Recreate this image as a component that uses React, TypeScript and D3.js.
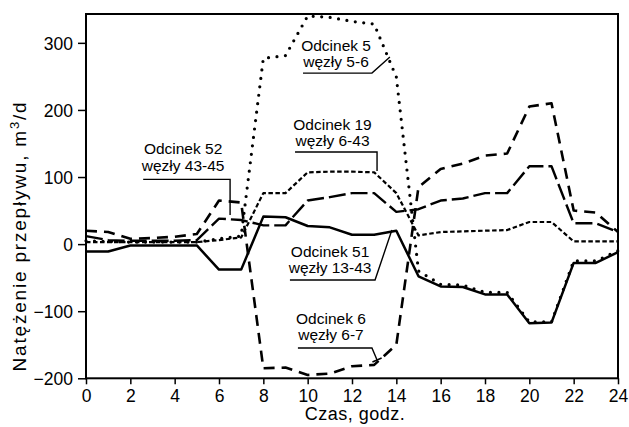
import React, { useRef, useEffect } from "react";
import * as d3 from "d3";

// godziny doby
const hours = [0, 1, 2, 3, 4, 5, 6, 7, 8, 9, 10, 11, 12, 13, 14, 15, 16, 17, 18, 19, 20, 21, 22, 23, 24];

// natezenie przeplywu, m3/d
const odcinek5 = [5, 4, 3, 3, 3, 3, 8, 12, 277, 281, 340, 338, 332, 328, 249, -40, -60, -61, -72, -72, -116, -116, -25, -25, -10];
const odcinek6 = [20, 18, 8, 9, 11, 15, 65, 62, -185, -184, -195, -193, -182, -180, -150, 85, 112, 120, 132, 135, 205, 210, 50, 47, 18];
const odcinek19 = [3, 3, 3, 3, 3, 3, 6, 10, 76, 76, 107, 108, 108, 107, 76, 13, 18, 19, 20, 21, 33, 33, 4, 4, 4];
const odcinek51 = [-11, -11, -2, -2, -2, -2, -38, -38, 41, 40, 27, 25, 14, 14, 20, -48, -63, -64, -75, -75, -118, -117, -28, -28, -12];
const odcinek52 = [12, 6, 5, 5, 5, 6, 38, 36, 28, 28, 65, 70, 76, 76, 48, 52, 65, 68, 76, 76, 116, 116, 31, 31, 18];

const xTicks = [0, 2, 4, 6, 8, 10, 12, 14, 16, 18, 20, 22, 24];
const yTicks = [-200, -100, 0, 100, 200, 300];

const App = () => {
	const svgRef = useRef<SVGSVGElement>(null);

	useEffect(() => {
		const svg = d3.select(svgRef.current);
		svg.selectAll("*").remove();
		const font = "'Liberation Sans', Arial, Helvetica, sans-serif";

		const x = d3.scaleLinear().domain([0, 24]).range([86, 618]);
		const y = d3.scaleLinear().domain([-200, 343]).range([378.3, 14]);

		svg.append("rect").attr("width", 629).attr("height", 427).attr("fill", "white");

		// serie
		const series = [
			{ values: odcinek6, dash: "11 7", width: 2.6, cap: "butt" },
			{ values: odcinek52, dash: "17 5", width: 2.4, cap: "butt" },
			{ values: odcinek19, dash: "4.5 2.5", width: 2.2, cap: "butt" },
			{ values: odcinek51, dash: null, width: 2.5, cap: "butt" },
			{ values: odcinek5, dash: "0 8.5", width: 3.2, cap: "round" },
		];
		const line = d3.line<number>()
			.x((d, i) => x(hours[i]))
			.y(d => y(d));

		svg.append("g")
			.selectAll("path")
			.data(series)
			.enter()
			.append("path")
			.attr("d", d => line(d.values))
			.attr("fill", "none")
			.attr("stroke", "black")
			.attr("stroke-width", d => d.width)
			.attr("stroke-linecap", d => d.cap)
			.attr("stroke-linejoin", "round")
			.attr("stroke-dasharray", d => d.dash);

		// ramka
		svg.append("rect")
			.attr("x", x(0)).attr("y", y(343))
			.attr("width", x(24) - x(0)).attr("height", y(-200) - y(343))
			.attr("fill", "none").attr("stroke", "black").attr("stroke-width", 2);

		const xAxis = d3.axisBottom(x).tickValues(xTicks).tickSize(6).tickPadding(5).tickFormat(d3.format("d"));
		const yAxis = d3.axisLeft(y).tickValues(yTicks).tickSize(8).tickPadding(5).tickFormat(d3.format("d"));

		const gx = svg.append("g").attr("transform", `translate(0, ${y(-200)})`).call(xAxis);
		const gy = svg.append("g").attr("transform", `translate(${x(0)}, 0)`).call(yAxis);
		[gx, gy].forEach(g => {
			g.select(".domain").remove();
			g.selectAll("line").attr("stroke-width", 1.5);
			g.selectAll("text").attr("font-family", font).attr("font-size", 17.5).attr("fill", "black");
		});
		gy.selectAll("text").attr("dy", "0.36em");

		// opisy
		const callouts = [
			{ lines: ["Odcinek 5", "węzły 5-6"], at: [11.28, 288.4], leader: [[9.79, 254.9], [12.9, 254.9], [13.71, 278.8]] },
			{ lines: ["Odcinek 19", "węzły 6-43"], at: [11.12, 170.7], leader: [[9.43, 137.2], [13.13, 137.2], [13.13, 108.9]] },
			{ lines: ["Odcinek 52", "węzły 43-45"], at: [4.38, 134.2], leader: [[2.58, 96.5], [6.5, 96.5], [6.5, 43.3]] },
			{ lines: ["Odcinek 51", "węzły 13-43"], at: [11.01, -18.8], leader: [[9.2, -53.5], [13.04, -53.5], [13.8, 21]] },
			{ lines: ["Odcinek 6", "węzły 6-7"], at: [11.05, -119], leader: [[9.56, -154.8], [12.9, -154.8], [13.13, -172.7]] },
		];
		const leaderLine = d3.line<number[]>().x(d => x(d[0])).y(d => y(d[1]));

		callouts.forEach(c => {
			const t = svg.append("text")
				.attr("x", x(c.at[0]))
				.attr("y", y(c.at[1]))
				.attr("text-anchor", "middle")
				.attr("font-family", font)
				.attr("font-size", 15.5)
				.attr("fill", "black");
			c.lines.forEach((s, i) => {
				t.append("tspan").attr("x", x(c.at[0])).attr("dy", i === 0 ? 0 : 16.5).text(s);
			});
			svg.append("path")
				.attr("d", leaderLine(c.leader))
				.attr("fill", "none")
				.attr("stroke", "black")
				.attr("stroke-width", 1.4);
		});

		// poprzeczka na koncu odnosnika odcinka 6
		const end = callouts[4].leader;
		const p1 = [x(end[1][0]), y(end[1][1])];
		const p2 = [x(end[2][0]), y(end[2][1])];
		const len = Math.hypot(p2[0] - p1[0], p2[1] - p1[1]);
		const nx = -(p2[1] - p1[1]) / len * 5;
		const ny = (p2[0] - p1[0]) / len * 5;
		svg.append("line")
			.attr("x1", p2[0] - nx).attr("y1", p2[1] - ny)
			.attr("x2", p2[0] + nx).attr("y2", p2[1] + ny)
			.attr("stroke", "black").attr("stroke-width", 1.6);

		// tytuly osi
		svg.append("text")
			.attr("x", (x(0) + x(24)) / 2 + 3)
			.attr("y", 420)
			.attr("text-anchor", "middle")
			.attr("font-family", font)
			.attr("font-size", 18)
			.attr("letter-spacing", 0.5)
			.text("Czas, godz.");

		const yt = svg.append("text")
			.attr("transform", "translate(26, 236) rotate(-90)")
			.attr("text-anchor", "middle")
			.attr("font-family", font)
			.attr("font-size", 19)
			.attr("letter-spacing", 1.8);
		yt.append("tspan").text("Natężenie przepływu, m");
		yt.append("tspan").attr("dy", -7).attr("font-size", 13).text("3");
		yt.append("tspan").attr("dy", 7).text("/d");
	}, []);

	return (
		<svg ref={svgRef} width={629} height={427} style={{ position: "absolute", left: 0, top: 0 }}></svg>
	);
};

export default App;
